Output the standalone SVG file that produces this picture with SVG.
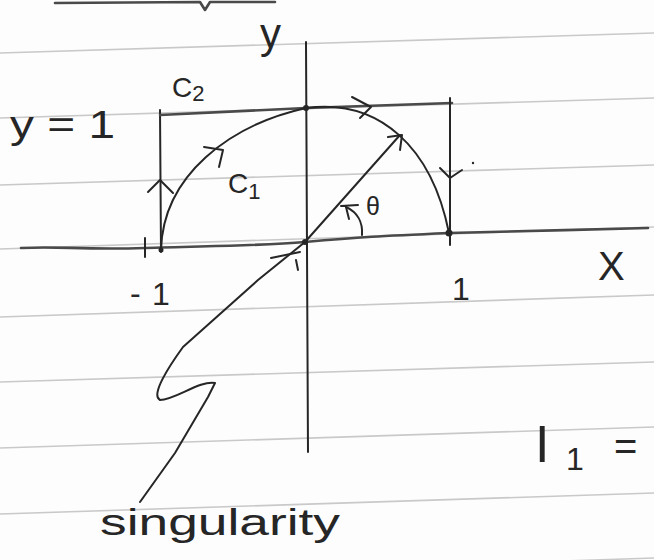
<svg xmlns="http://www.w3.org/2000/svg" width="654" height="560" viewBox="0 0 654 560">
<style>
.paper{stroke:#c9c9c9;stroke-width:1.6;fill:none}
.ink{stroke:#262626;stroke-width:2;fill:none;stroke-linecap:round;stroke-linejoin:round}
.ink2{stroke:#4a4a4a;stroke-width:2.6;fill:none;stroke-linecap:round;stroke-linejoin:round}
.hand{font-family:"Liberation Sans","DejaVu Sans",sans-serif;fill:#262626}
</style>
<rect width="654" height="560" fill="#fdfdfd"/>
<g id="paper">
<line class="paper" x1="0" y1="53" x2="654" y2="33"/>
<line class="paper" x1="0" y1="118" x2="654" y2="98"/>
<line class="paper" x1="0" y1="185" x2="654" y2="165"/>
<line class="paper" x1="0" y1="249" x2="654" y2="227"/>
<line class="paper" x1="0" y1="317" x2="654" y2="295"/>
<line class="paper" x1="0" y1="382" x2="654" y2="362"/>
<line class="paper" x1="0" y1="448" x2="654" y2="427"/>
<line class="paper" x1="0" y1="514" x2="654" y2="493"/>
<line class="paper" x1="0" y1="580" x2="654" y2="558"/>
</g>
<g id="top-stroke">
<path class="ink2" d="M55,3 L200,2 L205,10 L210,2 L275,2"/>
</g>
<g id="axes">
<path class="ink" d="M306,42 L307,250 L308,452"/>
<path class="ink2" d="M21,248 C60,246 80,250 145,248 C200,246 260,246 305,242 C360,237 380,236 449,233 C520,231 580,230 648,228"/>
<path class="ink" d="M145,238 L145,257"/>
</g>
<g id="box">
<path class="ink" d="M160,110 L161,252"/>
<path class="ink2" d="M160,115 L306,108 L452,103"/>
<path class="ink" d="M450,98 L450,245"/>
<path class="ink" d="M148,192 L160,180 L173,193"/>
<path class="ink" d="M440,168 L450,178 L462,170"/>
<path class="ink" d="M352,97 L371,107 L360,118"/>
</g>
<g id="curve">
<path class="ink" d="M161,250 C163,175 230,125 306,108 C380,98 432,148 449,233"/>
<path class="ink" d="M204,147 L223,150 L219,167"/>
</g>
<g id="radius">
<path class="ink" d="M305,242 L400,135"/>
<path class="ink" d="M388,137 L402,135 L400,150"/>
<path class="ink" d="M305,242 L258,280 L183,347 C170,365 150,395 160,400 C175,400 200,380 215,383 L208,397 L175,453 L140,502"/>
<path class="ink" d="M271,258 L300,252 M296,260 L298,270"/>
</g>
<g id="theta">
<path class="ink" d="M362,235 C363,222 357,212 346,207"/>
<path class="ink" d="M341,206 L358,205 M346,207 L349,219"/>
<text class="hand" x="366" y="215" font-size="25">θ</text>
</g>
<g id="dots" fill="#262626">
<circle cx="306" cy="108" r="3"/>
<circle cx="305" cy="242" r="3"/>
<circle cx="449" cy="233" r="3.5"/>
<circle cx="161" cy="250" r="2.5"/>
<circle cx="473" cy="163" r="1.2"/>
</g>
<g id="labels">
<text class="hand" x="260" y="48" font-size="42">y</text>
<text class="hand" x="598" y="280" font-size="40">X</text>
<text class="hand" x="10" y="138" font-size="38" textLength="105" lengthAdjust="spacingAndGlyphs">y = 1</text>
<text class="hand" x="172" y="97" font-size="28">C<tspan font-size="22" dy="4">2</tspan></text>
<text class="hand" x="228" y="193" font-size="28">C<tspan font-size="22" dy="6">1</tspan></text>
<text class="hand" x="130" y="304" font-size="32">-</text>
<text class="hand" x="152" y="305" font-size="32">1</text>
<text class="hand" x="452" y="300" font-size="32">1</text>
<text class="hand" x="535" y="462" font-size="52">I</text>
<text class="hand" x="566" y="470" font-size="32">1</text>
<text class="hand" x="614" y="460" font-size="40">=</text>
<text class="hand" x="100" y="535" font-size="36" textLength="240" lengthAdjust="spacingAndGlyphs">singularity</text>
</g>
</svg>
